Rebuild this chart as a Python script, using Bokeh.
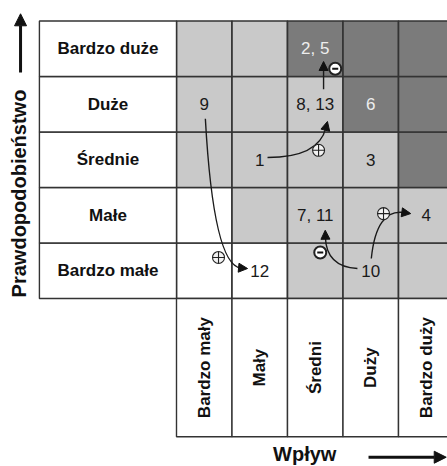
import math
from bokeh.plotting import figure
from bokeh.models import Range1d, Arrow, NormalHead
from bokeh.embed import file_html
from bokeh.resources import INLINE
from bokeh.core.properties import value

# ---------------- data ----------------
probability = ["Bardzo małe", "Małe", "Średnie", "Duże", "Bardzo duże"]   # bottom -> top
impact = ["Bardzo mały", "Mały", "Średni", "Duży", "Bardzo duży"]          # left -> right

# zone of each cell (rows bottom->top, columns left->right): 0 white, 1 light, 2 dark
zones = [
    [0, 0, 1, 1, 1],
    [0, 1, 1, 1, 1],
    [1, 1, 1, 1, 2],
    [1, 1, 1, 2, 2],
    [1, 1, 2, 2, 2],
]

risk_labels = ["9", "8, 13", "6", "2, 5", "1", "3", "7, 11", "4", "10", "12"]
risk_impact = ["Bardzo mały", "Średni", "Duży", "Średni", "Mały", "Duży",
               "Średni", "Bardzo duży", "Duży", "Mały"]
risk_prob = ["Duże", "Duże", "Duże", "Bardzo duże", "Średnie", "Średnie",
             "Małe", "Małe", "Bardzo małe", "Bardzo małe"]

# risk changes (cell units): start, control, end, sign, sign position
changes = [
    ((0.52, 3.24), (0.667, 0.595), (1.28, 0.54), "+", (0.757, 0.739)),
    ((1.64, 2.54), (2.56, 2.54), (2.72, 3.19), "+", (2.56, 2.67)),
    ((2.65, 3.77), (2.65, 4.02), (2.65, 4.27), "-", (2.86, 4.14)),
    ((3.26, 0.54), (2.695, 0.577), (2.68, 1.23), "-", (2.59, 0.83)),
    ((3.51, 0.72), (3.60, 1.62), (4.22, 1.53), "+", (3.73, 1.53)),
]

x_title = "Wpływ"
y_title = "Prawdopodobieństwo"

# ---------------- layout ----------------
PX = 55.5            # pixels per cell
LABEL_W = 2.47       # width of row-label column (cells)
LABEL_H = 2.49       # height of column-label row (cells)
W, H = 447, 466
x0 = -176 / PX
y_top = 298 / PX
xr = Range1d(x0, x0 + W / PX)
yr = Range1d(y_top - H / PX, y_top)

p = figure(width=W, height=H, x_range=xr, y_range=yr, output_backend="svg",
           toolbar_location=None, min_border=0, outline_line_color=None,
           background_fill_color="white", border_fill_color="white")
p.axis.visible = False
p.grid.visible = False

LINE = "#333333"
FILL = {0: "#ffffff", 1: "#c9c9c9", 2: "#7b7b7b"}

# matrix cells
cx, cy, cc = [], [], []
for r, row in enumerate(zones):
    for c, z in enumerate(row):
        cx.append(c + 0.5)
        cy.append(r + 0.5)
        cc.append(FILL[z])
p.rect(x=cx, y=cy, width=1, height=1, fill_color=cc, line_color=LINE, line_width=1.6)

# row label cells
ry = [probability.index(n) + 0.5 for n in probability]
p.rect(x=[-LABEL_W / 2] * 5, y=ry, width=LABEL_W, height=1,
       fill_color="white", line_color=LINE, line_width=1.4)
p.text(x=[-LABEL_W / 2] * 5, y=ry, text=probability, text_align="center",
       text_baseline="alphabetic", y_offset=0, text_font=value("Liberation Sans"),
       text_font_style="bold", text_font_size="17px", text_color="#111111")

# column label cells
colx = [impact.index(n) + 0.5 for n in impact]
p.rect(x=colx, y=[-LABEL_H / 2] * 5, width=1, height=LABEL_H,
       fill_color="white", line_color=LINE, line_width=1.4)
p.text(x=colx, y=[-LABEL_H / 2] * 5, text=impact, angle=math.pi / 2,
       text_align="center", text_baseline="alphabetic", x_offset=0,
       text_font=value("Liberation Sans"), text_font_style="bold",
       text_font_size="17px", text_color="#111111")

# risk numbers
rx = [impact.index(i) + 0.5 for i in risk_impact]
rry = [probability.index(q) + 0.5 for q in risk_prob]
rcol = ["#eeeeee" if zones[probability.index(q)][impact.index(i)] == 2 else "#1a1a1a"
        for i, q in zip(risk_impact, risk_prob)]
p.text(x=rx, y=rry, text=risk_labels, text_color=rcol, text_align="center",
       text_baseline="alphabetic", y_offset=0, text_font=value("Liberation Sans"),
       text_font_size="17px")

# change arrows
for (s, ctl, e, sign, sp) in changes:
    dx, dy = e[0] - ctl[0], e[1] - ctl[1]
    n = math.hypot(dx, dy)
    ux, uy = dx / n, dy / n
    back = 0.12
    ex, ey = e[0] - ux * back, e[1] - uy * back
    p.quadratic(x0=[s[0]], y0=[s[1]], x1=[ex], y1=[ey], cx=[ctl[0]], cy=[ctl[1]],
                line_color="#1a1a1a", line_width=1.4)
    p.add_layout(Arrow(end=NormalHead(size=9, fill_color="#111111", line_color="#111111",
                                      line_width=1),
                       x_start=ex, y_start=ey, x_end=e[0], y_end=e[1],
                       line_color="#111111", line_width=1.2))

plus = [c[4] for c in changes if c[3] == "+"]
minus = [c[4] for c in changes if c[3] == "-"]
p.scatter(x=[q[0] for q in plus], y=[q[1] for q in plus], marker="circle_cross", size=12,
          fill_color="#f2f2f2", line_color="#222222", line_width=1.1)
p.scatter(x=[q[0] for q in minus], y=[q[1] for q in minus], marker="circle", size=12,
          fill_color="white", line_color="#222222", line_width=2)
p.scatter(x=[q[0] for q in minus], y=[q[1] for q in minus], marker="dash", size=6,
          line_color="#111111", line_width=2)

# axis titles with arrows
p.text(x=[-LABEL_W - 0.37], y=[0.02], text=[y_title], angle=math.pi / 2,
       text_align="left", text_baseline="middle", text_font=value("Liberation Sans"),
       text_font_style="bold", text_font_size="20px", text_color="#111111")
p.add_layout(Arrow(end=NormalHead(size=12, fill_color="#111111", line_color="#111111"),
                   x_start=-LABEL_W - 0.34, y_start=4.07, x_end=-LABEL_W - 0.34, y_end=5.13,
                   line_color="#111111", line_width=3))

p.text(x=[2.31], y=[-2.80], text=[x_title], text_align="center",
       text_baseline="alphabetic", text_font=value("Liberation Sans"),
       text_font_style="bold", text_font_size="20px", text_color="#111111")
p.add_layout(Arrow(end=NormalHead(size=12, fill_color="#111111", line_color="#111111"),
                   x_start=3.46, y_start=-2.86, x_end=4.86, y_end=-2.86,
                   line_color="#111111", line_width=3))

open("out.html", "w").write(file_html(p, INLINE))
